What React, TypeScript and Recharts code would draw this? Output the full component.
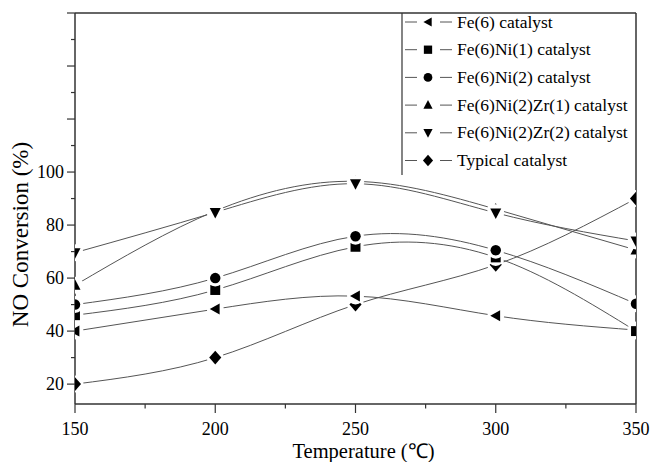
import React from "react";
import { LineChart, Line, XAxis, YAxis, ReferenceLine } from "recharts";

const temperatures = [150, 200, 250, 300, 350];
const fe6 = [40, 48.3, 53.2, 45.8, 40.4];
const fe6ni1 = [46, 55.5, 71.8, 67.8, 40];
const fe6ni2 = [50, 60, 75.8, 70.5, 50.3];
const fe6ni2zr1 = [57.3, 85.3, 96.5, 86, 70.6];
const fe6ni2zr2 = [69.6, 84.8, 95.6, 84.6, 74];
const typical = [20, 30, 50, 65, 90];

const xTicks = [150, 175, 200, 225, 250, 275, 300, 325, 350];
const yTicks = [20, 30, 40, 50, 60, 70, 80, 90, 100, 110, 120, 130, 140, 150, 160];
const yLabelMax = 100;

type Shape = "left" | "square" | "circle" | "up" | "down" | "diamond";

const seriesDefs: { key: string; name: string; shape: Shape; values: number[] }[] = [
  { key: "typical", name: "Typical catalyst", shape: "diamond", values: typical },
  { key: "fe6", name: "Fe(6) catalyst", shape: "left", values: fe6 },
  { key: "fe6ni1", name: "Fe(6)Ni(1) catalyst", shape: "square", values: fe6ni1 },
  { key: "fe6ni2", name: "Fe(6)Ni(2) catalyst", shape: "circle", values: fe6ni2 },
  { key: "zr1", name: "Fe(6)Ni(2)Zr(1) catalyst", shape: "up", values: fe6ni2zr1 },
  { key: "zr2", name: "Fe(6)Ni(2)Zr(2) catalyst", shape: "down", values: fe6ni2zr2 },
];

const legendOrder = ["fe6", "fe6ni1", "fe6ni2", "zr1", "zr2", "typical"];

const data = temperatures.map((t, i) => {
  const row: Record<string, number> = { t };
  seriesDefs.forEach((s) => {
    row[s.key] = s.values[i];
  });
  return row;
});

const FONT = "Liberation Serif, Times New Roman, serif";
const LINE_COLOR = "#555";
const AXIS_COLOR = "#333";

const CHART_W = 652;
const CHART_H = 462;
const MARGIN = { top: 13, right: 16, bottom: 0, left: 0 };
const Y_AXIS_W = 75;
const X_AXIS_H = 58;
const PLOT = {
  x: MARGIN.left + Y_AXIS_W,
  y: MARGIN.top,
  w: CHART_W - MARGIN.left - Y_AXIS_W - MARGIN.right,
  h: CHART_H - MARGIN.top - MARGIN.bottom - X_AXIS_H,
};

function Marker({ shape, cx, cy, h }: { shape: Shape; cx: number; cy: number; h: number }) {
  switch (shape) {
    case "left":
      return <polygon points={`${cx - h},${cy} ${cx + h * 0.8},${cy - h} ${cx + h * 0.8},${cy + h}`} fill="#000" />;
    case "square":
      return <rect x={cx - h * 0.9} y={cy - h * 0.9} width={h * 1.8} height={h * 1.8} fill="#000" />;
    case "circle":
      return <circle cx={cx} cy={cy} r={h * 0.95} fill="#000" />;
    case "up":
      return <polygon points={`${cx},${cy - h * 1.1} ${cx - h},${cy + h * 0.8} ${cx + h},${cy + h * 0.8}`} fill="#000" />;
    case "down":
      return <polygon points={`${cx},${cy + h * 1.1} ${cx - h},${cy - h * 0.8} ${cx + h},${cy - h * 0.8}`} fill="#000" />;
    case "diamond":
    default:
      return <polygon points={`${cx},${cy - h * 1.25} ${cx + h * 1.1},${cy} ${cx},${cy + h * 1.25} ${cx - h * 1.1},${cy}`} fill="#000" />;
  }
}

function makeDot(shape: Shape) {
  return (props: any) => {
    const { cx, cy, index } = props;
    const id = `dotclip-${shape}-${index}`;
    if (cx == null || cy == null) return <g key={id} />;
    return (
      <g key={id}>
        <defs>
          <clipPath id={id} clipPathUnits="userSpaceOnUse">
            <rect x={PLOT.x} y={PLOT.y} width={PLOT.w} height={PLOT.h} />
          </clipPath>
        </defs>
        <g clipPath={`url(#${id})`}>
          <circle cx={cx} cy={cy} r={8.5} fill="#fff" />
          <Marker shape={shape} cx={cx} cy={cy} h={5.5} />
        </g>
      </g>
    );
  };
}

const TICK_SIZE = 8;
const TICK_MARGIN = 3;

function YTick(props: any) {
  const { x, y, payload } = props;
  const v = payload.value;
  const major = v % 20 === 0;
  const axisX = x + TICK_SIZE + TICK_MARGIN;
  return (
    <g>
      <line x1={axisX - (major ? 8 : 4)} x2={axisX} y1={y} y2={y} stroke={AXIS_COLOR} strokeWidth={1.2} />
      {major && v <= yLabelMax ? (
        <text x={axisX - 11} y={y + 6} textAnchor="end" fontFamily={FONT} fontSize={18} fill="#000">
          {v}
        </text>
      ) : null}
    </g>
  );
}

function XTick(props: any) {
  const { x, y, payload } = props;
  const v = payload.value;
  const major = v % 50 === 0;
  const axisY = y - TICK_SIZE - TICK_MARGIN;
  return (
    <g>
      <line x1={x} x2={x} y1={axisY} y2={axisY + (major ? 9 : 4.5)} stroke={AXIS_COLOR} strokeWidth={1.2} />
      {major ? (
        <text x={x} y={axisY + 31} textAnchor="middle" fontFamily={FONT} fontSize={18} fill="#000">
          {v}
        </text>
      ) : null}
    </g>
  );
}

function YTitle(props: any) {
  const vb = props.viewBox || { x: 0, y: PLOT.y, width: Y_AXIS_W, height: PLOT.h };
  const cx = vb.x + 28;
  const cy = vb.y + vb.height / 2 + 26;
  return (
    <text x={cx} y={cy} transform={`rotate(-90, ${cx}, ${cy})`} textAnchor="middle" fontFamily={FONT} fontSize={23} fill="#000">
      NO Conversion (%)
    </text>
  );
}

function XTitle(props: any) {
  const vb = props.viewBox || { x: PLOT.x, y: PLOT.y + PLOT.h, width: PLOT.w, height: X_AXIS_H };
  const cx = vb.x + vb.width / 2 + 8;
  const cy = vb.y + 54;
  return (
    <text x={cx} y={cy} textAnchor="middle" fontFamily={FONT} fontSize={20.5} fill="#000">
      Temperature (℃)
    </text>
  );
}

function LegendBox() {
  const rowH = 27.7;
  return (
    <svg width={240} height={170} style={{ position: "absolute", left: 401, top: 12, overflow: "visible" }}>
      <line x1={1} x2={1} y1={1} y2={163} stroke={AXIS_COLOR} strokeWidth={1.2} />
      {legendOrder.map((k, i) => {
        const s = seriesDefs.find((d) => d.key === k)!;
        const cy = 10 + i * rowH;
        return (
          <g key={k}>
            <line x1={4} x2={16} y1={cy} y2={cy} stroke={LINE_COLOR} strokeWidth={1} />
            <Marker shape={s.shape} cx={27} cy={cy} h={4.6} />
            <line x1={39} x2={51} y1={cy} y2={cy} stroke={LINE_COLOR} strokeWidth={1} />
            <text x={56} y={cy + 5.5} fontFamily={FONT} fontSize={17.5} fill="#000">
              {s.name}
            </text>
          </g>
        );
      })}
    </svg>
  );
}

export default function App() {
  return (
    <div style={{ position: "absolute", left: 0, top: 0, width: CHART_W, height: CHART_H, background: "#fff" }}>
      <LineChart width={CHART_W} height={CHART_H} data={data} margin={MARGIN}>
        <XAxis
          dataKey="t"
          type="number"
          domain={[150, 350]}
          ticks={xTicks}
          allowDataOverflow
          height={X_AXIS_H}
          tickSize={TICK_SIZE}
          tickMargin={TICK_MARGIN}
          tickLine={false}
          axisLine={{ stroke: AXIS_COLOR, strokeWidth: 1.5 }}
          tick={<XTick />}
          interval={0}
          label={<XTitle />}
        />
        <YAxis
          type="number"
          domain={[12.5, 160]}
          ticks={yTicks}
          allowDataOverflow
          width={Y_AXIS_W}
          tickSize={TICK_SIZE}
          tickMargin={TICK_MARGIN}
          tickLine={false}
          axisLine={{ stroke: AXIS_COLOR, strokeWidth: 1.5 }}
          tick={<YTick />}
          interval={0}
          label={<YTitle />}
        />
        <ReferenceLine y={160} stroke={AXIS_COLOR} strokeWidth={1.5} />
        <ReferenceLine x={350} stroke={AXIS_COLOR} strokeWidth={1.5} />
        {seriesDefs.map((s) => (
          <Line
            key={s.key}
            dataKey={s.key}
            name={s.name}
            type="natural"
            stroke={LINE_COLOR}
            strokeWidth={1}
            dot={makeDot(s.shape)}
            activeDot={false}
            isAnimationActive={false}
          />
        ))}
      </LineChart>
      <LegendBox />
    </div>
  );
}
